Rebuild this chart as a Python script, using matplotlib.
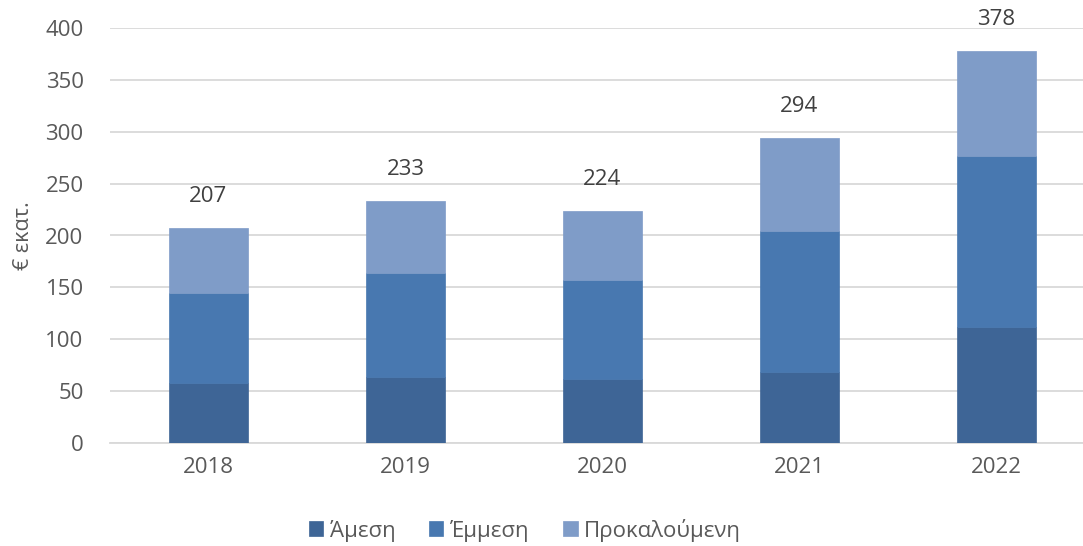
import matplotlib
matplotlib.use("Agg")
import matplotlib.pyplot as plt
import numpy as np

years = ["2018", "2019", "2020", "2021", "2022"]
direct = [58, 64, 62, 68, 112]
indirect = [87, 100, 95, 136, 165]
induced = [62, 69, 67, 90, 101]
totals = [207, 233, 224, 294, 378]
series_names = ["Άμεση", "Έμμεση", "Προκαλούμενη"]
colors = ["#3E6596", "#4878B0", "#7F9CC8"]

plt.rcParams['font.family'] = ['Open Sans', 'DejaVu Sans']

fig = plt.figure(figsize=(10.83, 5.46), dpi=100)
ax = fig.add_axes([110/1083, 1-443/546, 1-110/1083, (443-28)/546])

x = np.arange(len(years))
w = 0.40
bottom = np.zeros(len(years))
bars = []
for vals, c, name in zip([direct, indirect, induced], colors, series_names):
    b = ax.bar(x, vals, w, bottom=bottom, color=c, label=name, zorder=3,
               edgecolor=c, linewidth=0.5)
    bars.append(b)
    bottom += np.array(vals)

for xi, t in zip(x, totals):
    ax.text(xi, t + 25, str(t), ha="center", va="baseline", fontsize=16, color="#404040")

ax.set_ylim(0, 400)
ax.set_yticks(range(0, 401, 50))
ax.set_xlim(-0.5, 4.44)
ax.set_xticks(x)
ax.set_xticklabels(years)
ax.yaxis.grid(True, color="#D9D9D9", linewidth=1.3, zorder=0)
for s in ["top", "right", "left"]:
    ax.spines[s].set_visible(False)
ax.spines["bottom"].set_color("#D9D9D9")
ax.spines["bottom"].set_linewidth(1.3)
ax.tick_params(axis="both", length=0, labelsize=16, colors="#595959")
ax.tick_params(axis="y", pad=19)
ax.tick_params(axis="x", pad=10)
ax.set_ylabel("€ εκατ.", fontsize=15.5, color="#595959", labelpad=8)

leg = fig.legend(handles=bars, labels=series_names, loc="center", ncol=3,
                 bbox_to_anchor=(525/1083, 1-530/546), frameon=False,
                 fontsize=16, handlelength=0.65, handleheight=0.65,
                 handletextpad=0.3, columnspacing=1.5)
for t in leg.get_texts():
    t.set_color("#595959")

fig.savefig("out.png", dpi=100)
